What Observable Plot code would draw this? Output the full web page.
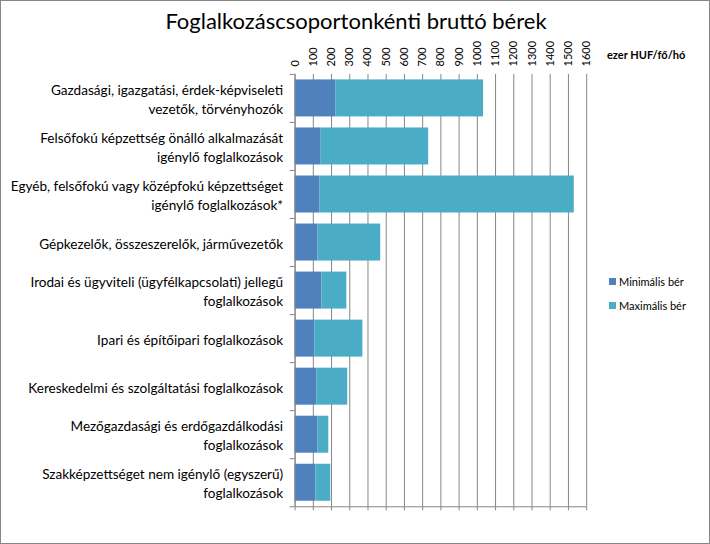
<!DOCTYPE html>
<html>
<head>
<meta charset="utf-8">
<script src="https://cdn.jsdelivr.net/npm/d3@7"></script>
<script src="https://cdn.jsdelivr.net/npm/@observablehq/plot@0.6"></script>
<style>
  html, body { margin: 0; padding: 0; background: #fff; }
  #wrap { position: relative; width: 708px; height: 542px; border: 1px solid #868686; font-family: Lato, "Open Sans", sans-serif; overflow: hidden; }
  #chart { position: absolute; left: -1px; top: -1px; }
  #title { position: absolute; left: 0; width: 710px; top: 6px; text-align: center; font-size: 22px; color: #000; white-space: nowrap; }
  #unit { position: absolute; left: 606px; top: 47px; font-size: 11px; font-weight: bold; color: #000; white-space: nowrap; }
  .leg { position: absolute; left: 608px; font-size: 11px; color: #000; white-space: nowrap; display: flex; align-items: center; }
  .sw { width: 7px; height: 7px; margin-right: 3px; display: inline-block; }
</style>
</head>
<body>
<div id="wrap">
  <div id="chart"></div>
  <div id="title">Foglalkozáscsoportonkénti bruttó bérek</div>
  <div id="unit">ezer HUF/fő/hó</div>
  <div class="leg" style="top:274px"><span class="sw" style="background:#4F81BD"></span>Minimális bér</div>
  <div class="leg" style="top:298px"><span class="sw" style="background:#4BACC6"></span>Maximális bér</div>
</div>
<script>
const categories = [
  "Gazdasági, igazgatási, érdek-képviseleti\nvezetők, törvényhozók",
  "Felsőfokú képzettség önálló alkalmazását\nigénylő foglalkozások",
  "Egyéb, felsőfokú vagy középfokú képzettséget\nigénylő foglalkozások*",
  "Gépkezelők, összeszerelők, járművezetők",
  "Irodai és ügyviteli (ügyfélkapcsolati) jellegű\nfoglalkozások",
  "Ipari és építőipari foglalkozások",
  "Kereskedelmi és szolgáltatási foglalkozások",
  "Mezőgazdasági és erdőgazdálkodási\nfoglalkozások",
  "Szakképzettséget nem igénylő (egyszerű)\nfoglalkozások"
];
const minWage = [223, 143, 137, 126, 147, 108, 119, 126, 114];
const maxWage = [811, 590, 1395, 344, 137, 264, 170, 59, 82];
const xTicks = d3.range(0, 1601, 100);

const rows = categories.map((c, i) => ({i, c, min: minWage[i], max: maxWage[i]}));
const boundaries = d3.range(categories.length + 1).map(k => k - 0.5);
const half = 0.385;
const grid = "#868686";

const chart = Plot.plot({
  width: 710,
  height: 544,
  marginLeft: 295,
  marginRight: 123,
  marginTop: 74,
  marginBottom: 37,
  style: {fontFamily: "Lato, 'Open Sans', sans-serif", color: "#000", background: "transparent"},
  x: {domain: [0, 1600]},
  y: {type: "linear", domain: [-0.5, categories.length - 0.5], reverse: true},
  marks: [
    Plot.gridX({ticks: xTicks, stroke: grid, strokeOpacity: 1}),
    Plot.rect(rows, {x1: 0, x2: d => d.min, y1: d => d.i - half, y2: d => d.i + half, fill: "#4F81BD"}),
    Plot.rect(rows, {x1: d => d.min, x2: d => d.min + d.max, y1: d => d.i - half, y2: d => d.i + half, fill: "#4BACC6"}),
    Plot.ruleX([0], {stroke: grid}),
    Plot.ruleY([categories.length - 0.5], {stroke: grid}),
    Plot.axisX({anchor: "top", ticks: xTicks, tickFormat: d => String(d), tickRotate: -90, tickSize: 0, tickPadding: 8, fontSize: 11, label: null}),
    Plot.axisX({anchor: "bottom", ticks: xTicks, tickSize: 4, stroke: grid, tickFormat: () => "", label: null}),
    Plot.axisY({ticks: boundaries, tickSize: 5, stroke: grid, tickFormat: () => "", label: null}),
    Plot.axisY({ticks: d3.range(categories.length), tickFormat: i => categories[i], tickSize: 0, tickPadding: 12, fontSize: 13.6, lineHeight: 1.38, label: null, ariaLabel: "cat-labels"})
  ]
});
document.getElementById("chart").append(chart);

// center multi-line labels within their right-aligned block
chart.querySelectorAll('g[aria-label="cat-labels"] text').forEach(t => {
  const spans = t.querySelectorAll("tspan");
  if (spans.length < 2) return;
  const w = d3.max(Array.from(spans), s => s.getComputedTextLength());
  t.setAttribute("text-anchor", "middle");
  spans.forEach(s => s.setAttribute("x", -w / 2));
});
</script>
</body>
</html>
